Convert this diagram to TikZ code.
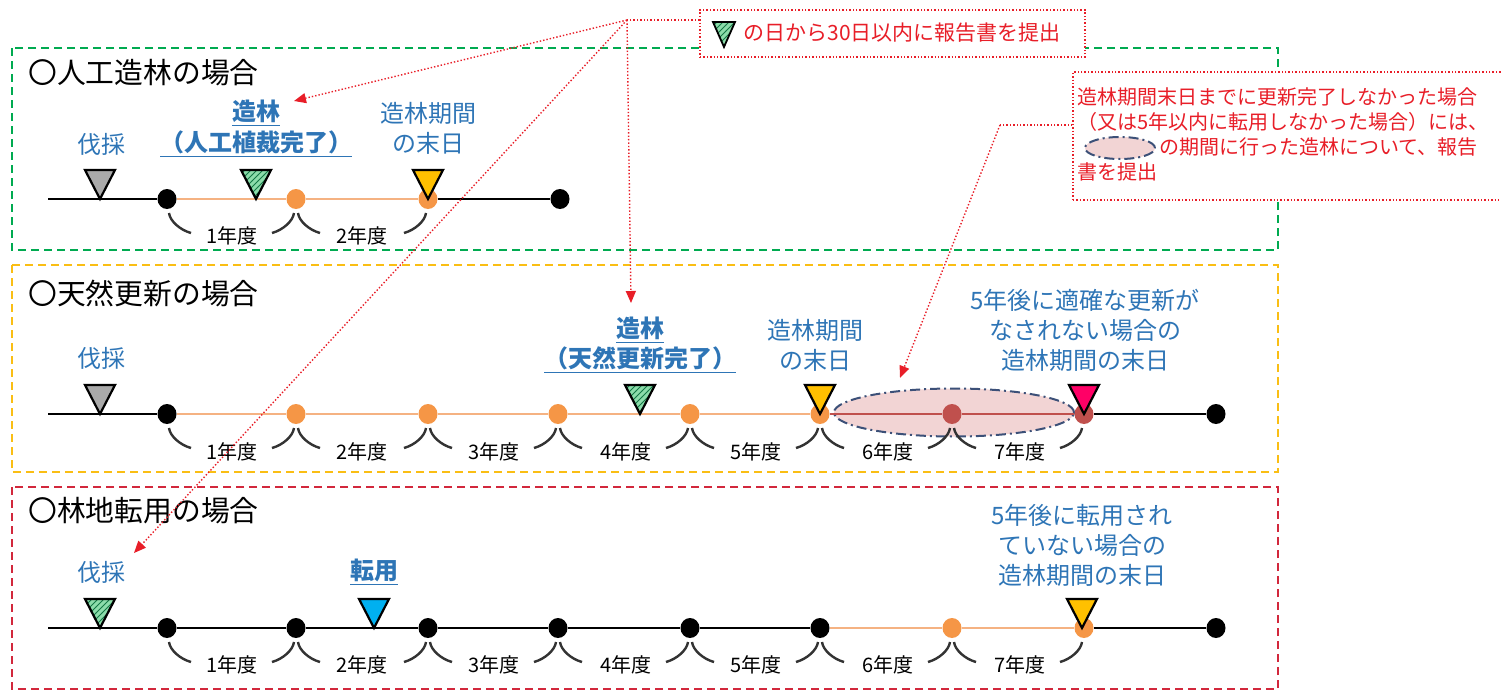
\documentclass[tikz,border=0pt]{standalone}
\usepackage{fontspec}
\setmainfont{Noto Sans CJK JP}
\usetikzlibrary{arrows.meta,shapes.geometric,patterns}

\definecolor{labelblue}{RGB}{46,117,182}
\definecolor{notered}{RGB}{232,30,40}
\definecolor{dotorange}{RGB}{245,150,70}
\definecolor{lineorange}{RGB}{245,178,130}
\definecolor{dotred}{RGB}{192,80,77}
\definecolor{periodpink}{RGB}{242,212,212}
\definecolor{periodnavy}{RGB}{60,80,120}
\definecolor{markgray}{RGB}{170,170,170}
\definecolor{markyellow}{RGB}{255,192,0}
\definecolor{markpink}{RGB}{255,0,102}
\definecolor{markblue}{RGB}{0,176,240}
\definecolor{hatchgreen}{RGB}{140,220,170}
\definecolor{hatchdark}{RGB}{20,120,70}
\definecolor{framegreen}{RGB}{0,170,80}
\definecolor{frameyellow}{RGB}{250,190,20}
\definecolor{framered}{RGB}{210,40,60}

\begin{document}
\begin{tikzpicture}[x=0.5pt,y=-0.5pt]
			\tikzstyle{frame}=[dash pattern=on 4pt off 2.5pt, line width=1.1pt]
			\tikzstyle{heading}=[anchor=west, inner sep=0pt, font=\fontsize{14.4}{17}\selectfont]
			\tikzstyle{blue text}=[align=center, inner sep=0pt, text=labelblue, font=\fontsize{12}{15}\selectfont]
			\tikzstyle{key text}=[blue text, font=\fontsize{12}{15}\selectfont\bfseries]
			\tikzstyle{year}=[inner sep=0pt, font=\fontsize{10}{12}\selectfont]
			\tikzstyle{dot}=[ellipse, minimum width=9.5pt, minimum height=10pt, inner sep=0pt]
			\tikzstyle{black dot}=[dot, fill=black]
			\tikzstyle{orange dot}=[dot, fill=dotorange]
			\tikzstyle{red dot}=[dot, fill=dotred]
			\tikzstyle{black line}=[draw, line width=1.2pt, black]
			\tikzstyle{orange line}=[draw, line width=1pt, lineorange]
			\tikzstyle{red line}=[draw, line width=1pt, dotred]
			\tikzstyle{tick}=[draw, line width=1.2pt, black!80]
			\tikzstyle{marker}=[draw, line width=1.1pt, black, line join=miter]
			\tikzstyle{hatched}=[marker, preaction={fill=hatchgreen}, pattern=north east lines, pattern color=hatchdark]
			\tikzstyle{period}=[ellipse, draw=periodnavy, fill=periodpink, line width=1pt, dash pattern=on 5pt off 2pt on 1pt off 2pt, inner sep=0pt]
			\tikzstyle{note}=[draw=notered, densely dotted, line width=0.7pt, fill=white, inner sep=0pt]
			\tikzstyle{note text}=[inner sep=0pt, text=notered, font=\fontsize{10.5}{12.5}\selectfont]
			\tikzstyle{callout}=[draw=notered, densely dotted, line width=0.7pt]
			\tikzstyle{pointer}=[callout, -{Triangle[length=6pt,width=5pt]}]

			\useasboundingbox (0,0) rectangle (1501,691);

			\draw[frame, framegreen] (12,48) rectangle (1278,250);
			\draw[frame, frameyellow] (12,265) rectangle (1278,472);
			\draw[frame, framered] (12,487) rectangle (1278,689);

			\node[note, minimum width=192.5pt, minimum height=23.5pt] (note1) at (892.5,33.5) {};
			\path[hatched, line width=0.9pt] (724,47) -- ++(-11,-25) -- ++(22,0) -- cycle;
			\node[note text, anchor=west] (n1) at (743,33) {の日から30日以内に報告書を提出};

			\node[note, minimum width=216pt, minimum height=64pt] (note2) at (1289,136) {};
			\node[note text, anchor=north west, align=left, font=\fontsize{10}{12.5}\selectfont] (n2) at (1077,87) {造林期間末日までに更新完了しなかった場合\\（又は5年以内に転用しなかった場合）には、\\\hspace*{41pt}の期間に行った造林について、報告\\書を提出};
			\node[period, minimum width=35pt, minimum height=11pt] (key) at (1120,148) {};

			\node[heading] (t1) at (28,73) {〇人工造林の場合};
			\node[heading] (t2) at (28,293) {〇天然更新の場合};
			\node[heading] (t3) at (28,511) {〇林地転用の場合};

			\coordinate (s1) at (48,199);
			\node[black dot] (a0) at (167,199) {};
			\node[orange dot] (a1) at (296,199) {};
			\node[orange dot] (a2) at (428,199) {};
			\node[black dot] (a3) at (560,199) {};
			\draw[black line] (s1) -- (a0) (a2) -- (a3);
			\draw[orange line] (a0) -- (a1) -- (a2);

			\path[marker, fill=markgray] (100,199) -- ++(-15,-29) -- ++(30,0) -- cycle;
			\path[hatched] (256,199) -- ++(-15,-29) -- ++(30,0) -- cycle;
			\path[marker, fill=markyellow] (428,199) -- ++(-15,-29) -- ++(30,0) -- cycle;

			\node[blue text] (f1) at (101,144) {伐採};
			\node[key text] (z1) at (256,113) {\underline{造林}};
			\node[key text] (z1b) at (256,144) {\underline{（人工植裁完了）}};
			\node[blue text] (e1) at (428,128) {造林期間\\の末日};

			\node[year] (y11) at (232,236) {1年度};
			\node[year] (y12) at (362,236) {2年度};
			\draw[tick, shift={(a0)}] (2,14) .. controls (3,22) and (13,31) .. (24,34);
			\draw[tick, shift={(a1)}] (-2,14) .. controls (-3,22) and (-13,31) .. (-24,34) (2,14) .. controls (3,22) and (13,31) .. (24,34);
			\draw[tick, shift={(a2)}] (-2,14) .. controls (-3,22) and (-13,31) .. (-24,34);

			\node[period, minimum width=120pt, minimum height=24pt] (span) at (954,412.5) {};
			\coordinate (s2) at (48,414);
			\node[black dot] (b0) at (167,414) {};
			\node[orange dot] (b1) at (296,414) {};
			\node[orange dot] (b2) at (428,414) {};
			\node[orange dot] (b3) at (558,414) {};
			\node[orange dot] (b4) at (690,414) {};
			\node[orange dot] (b5) at (820,414) {};
			\node[red dot] (b6) at (952,414) {};
			\node[red dot] (b7) at (1084,414) {};
			\node[black dot] (b8) at (1216,414) {};
			\draw[black line] (s2) -- (b0) (b7) -- (b8);
			\draw[orange line] (b0) -- (b1) -- (b2) -- (b3) -- (b4) -- (b5);
			\draw[red line] (b5) -- (b6) -- (b7);

			\path[marker, fill=markgray] (100,414) -- ++(-15,-29) -- ++(30,0) -- cycle;
			\path[hatched] (640,414) -- ++(-15,-29) -- ++(30,0) -- cycle;
			\path[marker, fill=markyellow] (820,414) -- ++(-15,-29) -- ++(30,0) -- cycle;
			\path[marker, fill=markpink] (1084,414) -- ++(-15,-29) -- ++(30,0) -- cycle;

			\node[blue text] (f2) at (101,358) {伐採};
			\node[key text] (z2) at (640,330) {\underline{造林}};
			\node[key text] (z2b) at (640,360) {\underline{（天然更新完了）}};
			\node[blue text] (e2) at (815,345) {造林期間\\の末日};
			\node[blue text] (e2b) at (1085,330) {5年後に適確な更新が\\なされない場合の\\造林期間の末日};

			\node[year] (y21) at (232,452) {1年度};
			\node[year] (y22) at (362,452) {2年度};
			\node[year] (y23) at (494,452) {3年度};
			\node[year] (y24) at (626,452) {4年度};
			\node[year] (y25) at (756,452) {5年度};
			\node[year] (y26) at (888,452) {6年度};
			\node[year] (y27) at (1020,452) {7年度};
			\draw[tick, shift={(b0)}] (2,14) .. controls (3,22) and (13,31) .. (24,34);
			\draw[tick, shift={(b1)}] (-2,14) .. controls (-3,22) and (-13,31) .. (-24,34) (2,14) .. controls (3,22) and (13,31) .. (24,34);
			\draw[tick, shift={(b2)}] (-2,14) .. controls (-3,22) and (-13,31) .. (-24,34) (2,14) .. controls (3,22) and (13,31) .. (24,34);
			\draw[tick, shift={(b3)}] (-2,14) .. controls (-3,22) and (-13,31) .. (-24,34) (2,14) .. controls (3,22) and (13,31) .. (24,34);
			\draw[tick, shift={(b4)}] (-2,14) .. controls (-3,22) and (-13,31) .. (-24,34) (2,14) .. controls (3,22) and (13,31) .. (24,34);
			\draw[tick, shift={(b5)}] (-2,14) .. controls (-3,22) and (-13,31) .. (-24,34) (2,14) .. controls (3,22) and (13,31) .. (24,34);
			\draw[tick, shift={(b6)}] (-2,14) .. controls (-3,22) and (-13,31) .. (-24,34) (2,14) .. controls (3,22) and (13,31) .. (24,34);
			\draw[tick, shift={(b7)}] (-2,14) .. controls (-3,22) and (-13,31) .. (-24,34);

			\coordinate (s3) at (48,628);
			\node[black dot] (c0) at (167,628) {};
			\node[black dot] (c1) at (296,628) {};
			\node[black dot] (c2) at (428,628) {};
			\node[black dot] (c3) at (558,628) {};
			\node[black dot] (c4) at (690,628) {};
			\node[black dot] (c5) at (820,628) {};
			\node[orange dot] (c6) at (952,628) {};
			\node[orange dot] (c7) at (1084,628) {};
			\node[black dot] (c8) at (1216,628) {};
			\draw[black line] (s3) -- (c0) -- (c1) -- (c2) -- (c3) -- (c4) -- (c5) (c7) -- (c8);
			\draw[orange line] (c5) -- (c6) -- (c7);

			\path[hatched] (100,628) -- ++(-15,-29) -- ++(30,0) -- cycle;
			\path[marker, fill=markblue] (374,628) -- ++(-15,-29) -- ++(30,0) -- cycle;
			\path[marker, fill=markyellow] (1082,628) -- ++(-15,-29) -- ++(30,0) -- cycle;

			\node[blue text] (f3) at (101,572) {伐採};
			\node[key text] (z3) at (374,572) {\underline{転用}};
			\node[blue text] (e3) at (1082,545) {5年後に転用され\\ていない場合の\\造林期間の末日};

			\node[year] (y31) at (232,665) {1年度};
			\node[year] (y32) at (362,665) {2年度};
			\node[year] (y33) at (494,665) {3年度};
			\node[year] (y34) at (626,665) {4年度};
			\node[year] (y35) at (756,665) {5年度};
			\node[year] (y36) at (888,665) {6年度};
			\node[year] (y37) at (1020,665) {7年度};
			\draw[tick, shift={(c0)}] (2,14) .. controls (3,22) and (13,31) .. (24,34);
			\draw[tick, shift={(c1)}] (-2,14) .. controls (-3,22) and (-13,31) .. (-24,34) (2,14) .. controls (3,22) and (13,31) .. (24,34);
			\draw[tick, shift={(c2)}] (-2,14) .. controls (-3,22) and (-13,31) .. (-24,34) (2,14) .. controls (3,22) and (13,31) .. (24,34);
			\draw[tick, shift={(c3)}] (-2,14) .. controls (-3,22) and (-13,31) .. (-24,34) (2,14) .. controls (3,22) and (13,31) .. (24,34);
			\draw[tick, shift={(c4)}] (-2,14) .. controls (-3,22) and (-13,31) .. (-24,34) (2,14) .. controls (3,22) and (13,31) .. (24,34);
			\draw[tick, shift={(c5)}] (-2,14) .. controls (-3,22) and (-13,31) .. (-24,34) (2,14) .. controls (3,22) and (13,31) .. (24,34);
			\draw[tick, shift={(c6)}] (-2,14) .. controls (-3,22) and (-13,31) .. (-24,34) (2,14) .. controls (3,22) and (13,31) .. (24,34);
			\draw[tick, shift={(c7)}] (-2,14) .. controls (-3,22) and (-13,31) .. (-24,34);

			\coordinate (k1) at (627,20);
			\coordinate (p1) at (294,101);
			\coordinate (p2) at (631,303);
			\coordinate (p3) at (134,553);
			\draw[callout] (k1 -| note1.west) -- (k1);
			\draw[pointer] (k1) -- (p1);
			\draw[pointer] (k1) -- (p2);
			\draw[pointer] (k1) -- (p3);
			\coordinate (k2) at (1000,125);
			\coordinate (p4) at (900,378);
			\draw[callout] (k2 -| note2.west) -- (k2);
			\draw[pointer] (k2) -- (p4);
		\end{tikzpicture}
\end{document}
